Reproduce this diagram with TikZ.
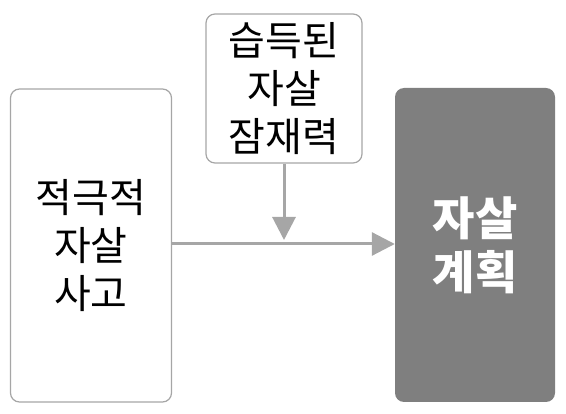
\documentclass[tikz,border=0pt]{standalone}
\usepackage{fontspec}
\setmainfont{Noto Sans CJK KR}
\usetikzlibrary{arrows.meta}
\definecolor{linegray}{HTML}{A6A6A6}
\definecolor{boxgray}{HTML}{7F7F7F}
\tikzset{
  factor/.style={draw=linegray, line width=1.2pt, rounded corners=9pt, fill=white,
    align=center, inner sep=0pt, font=\fontsize{40}{48}\selectfont},
  outcome/.style={fill=boxgray, rounded corners=9pt, align=center, inner sep=0pt,
    text=white, font=\fontsize{46}{54}\bfseries\selectfont},
  flow/.style={draw=linegray, line width=3pt,
    -{Triangle[length=23pt,width=23pt]}}
}
\begin{document}
\begin{tikzpicture}[x=1pt,y=-1pt]
  \useasboundingbox (0,0) rectangle (566,414);
  \node[factor, minimum width=161pt, minimum height=313pt] (active) at (91,245.5) {적극적\\자살\\사고};
  \node[factor, minimum width=156pt, minimum height=149pt] (capab) at (284,88.5) {습득된\\자살\\잠재력};
  \node[outcome, minimum width=160pt, minimum height=314pt] (plan) at (475,245) {자살\\계획};
  \coordinate (meet) at (capab.south |- 0,240);
  \draw[flow] (active.east |- 0,244) -- (plan.west |- 0,244);
  \draw[flow] (capab.south) -- (meet);
\end{tikzpicture}
\end{document}
